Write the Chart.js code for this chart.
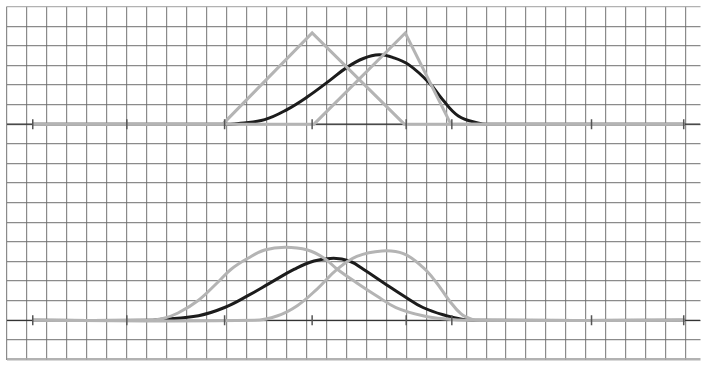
<!DOCTYPE html>
<html>
<head>
<meta charset="utf-8">
<script src="https://cdn.jsdelivr.net/npm/chart.js@4.4.1/dist/chart.umd.min.js"></script>
<style>
  body { margin: 0; background: #fff; }
  canvas { display: block; }
</style>
</head>
<body>
<canvas id="grafico" width="707" height="366"></canvas>
<script>
// x in units of the axis tick spacing (0 = centre tick), y = height of the triangles

// top panel: two triangles and the black result
const triAX = [-3, -0.96, 0, 0.99, 4];
const triAY = [0, 0, 1, 0, 0];
const triBX = [-3, 0.02, 1.0, 1.49, 4];
const triBY = [0, 0, 1, 0, 0];
const topCurveX = [-3, -0.88, -0.77, -0.51, -0.27, -0.05, 0.19, 0.37, 0.55, 0.72, 0.87, 1.04, 1.26, 1.40, 1.57, 1.79, 1.9, 4];
const topCurveY = [0, 0, 0.01, 0.05, 0.16, 0.30, 0.48, 0.62, 0.72, 0.76, 0.73, 0.65, 0.45, 0.27, 0.09, 0.01, 0, 0];

// bottom panel: two gray bells and the black one
const bellAX = [-3, -1.76, -1.60, -1.44, -1.22, -1.01, -0.87, -0.69, -0.51, -0.29, -0.05, 0.13, 0.27, 0.48, 0.69, 0.90, 1.19, 1.47, 1.65, 4];
const bellAY = [0, 0, 0.02, 0.08, 0.22, 0.42, 0.56, 0.68, 0.77, 0.80, 0.77, 0.68, 0.56, 0.41, 0.27, 0.14, 0.05, 0.01, 0, 0];
const bellBX = [-3, -0.62, -0.37, -0.16, 0.05, 0.27, 0.48, 0.75, 0.98, 1.19, 1.33, 1.47, 1.60, 1.72, 1.82, 4];
const bellBY = [0, 0, 0.05, 0.16, 0.34, 0.56, 0.70, 0.76, 0.73, 0.58, 0.42, 0.22, 0.07, 0.01, 0, 0];
const bottomCurveX = [-3, -1.76, -1.62, -1.22, -0.94, -0.69, -0.45, -0.19, 0.02, 0.23, 0.40, 0.55, 0.77, 0.98, 1.19, 1.44, 1.62, 1.76, 4];
const bottomCurveY = [0, 0, 0.01, 0.05, 0.14, 0.27, 0.41, 0.56, 0.65, 0.68, 0.65, 0.56, 0.41, 0.27, 0.14, 0.05, 0.01, 0, 0];

// tick marks on both axes, and the thin axis line
const tickX = [-3, -1.99, -0.94, 0, 1.01, 1.5, 3, 3.99];
const axisX = [-3.28, 4.17];

addEventListener("DOMContentLoaded", function(){
    generarGrafico();
});

function puntos(xs, ys) {
    let out = [];
    for (let i = 0; i < xs.length; i++) {
        out = [...out, {x: xs[i], y: ys[i]}];
    }
    return out;
}

function generarGrafico() {

    const gris = "#b4b4b4";
    const negro = "#1c1c1c";

    // graph paper: one square = 20px, tick unit = 94px, triangle height = 93px
    const PX_X = 94, PX_Y = 93, SQ = 20;
    const xMin = -308 / PX_X, xMax = 392 / PX_X;
    const topMax = 120 / PX_Y, topMin = -240 / PX_Y;
    const botMax = 320 / PX_Y, botMin = -40 / PX_Y;

    let gridX = [];
    for (let k = 0; k <= 34; k++) gridX.push(xMin + k * 20.15 / PX_X);
    let gridY = [];
    for (let k = 0; k <= 18; k++) gridY.push(topMax - k * SQ / PX_Y);

    const curva = (xs, ys, color, eje, ancho, tension) => ({
        type: "line",
        data: puntos(xs, ys),
        yAxisID: eje,
        borderColor: color,
        borderWidth: ancho,
        pointRadius: 0,
        fill: false,
        tension: tension
    });

    const marcas = eje => ({
        type: "scatter", data: puntos(tickX, tickX.map(() => 0)), yAxisID: eje,
        pointStyle: "line", rotation: 90, pointRadius: 5,
        borderColor: "#555", borderWidth: 1.5, showLine: false
    });

    const ejeY = axisX.map(() => 0);

    // Chart.js paints dataset 0 last, so the top layer goes first
    new Chart("grafico", {
      type: "line",
      data: {
        datasets: [
          marcas("yTop"),
          marcas("yBot"),
          curva(triAX, triAY, gris, "yTop", 3, 0),
          curva(triBX, triBY, gris, "yTop", 3, 0),
          curva(bellAX, bellAY, gris, "yBot", 3, 0.4),
          curva(bellBX, bellBY, gris, "yBot", 3, 0.4),
          curva(topCurveX, topCurveY, negro, "yTop", 3, 0.4),
          curva(bottomCurveX, bottomCurveY, negro, "yBot", 3, 0.4),
          curva(axisX, ejeY, "#333", "yTop", 1.2, 0),
          curva(axisX, ejeY, "#333", "yBot", 1.2, 0)
        ]
      },
      options: {
        responsive: false,
        animation: false,
        devicePixelRatio: 1,
        layout: { padding: { left: 7, top: 5, right: 0, bottom: 1 } },
        plugins: { legend: { display: false }, tooltip: { enabled: false } },
        datasets: { line: { borderJoinStyle: "miter" } },
        scales: {
          x: {
            type: "linear", min: xMin, max: xMax,
            ticks: { display: false },
            border: { display: false },
            grid: { color: "rgba(110,110,110,0.8)", lineWidth: 1.2, drawTicks: false },
            afterBuildTicks: s => { s.ticks = gridX.map(v => ({value: v})); },
            afterFit: s => { s.height = 0; }
          },
          yTop: {
            type: "linear", position: "left", min: topMin, max: topMax,
            ticks: { display: false },
            border: { display: false },
            grid: {
              drawTicks: false,
              color: c => (c.index === 18 || c.index === 0) ? "rgba(170,170,170,0.9)" : "rgba(110,110,110,0.8)",
              lineWidth: c => c.index === 18 ? 2.5 : 1.2
            },
            afterBuildTicks: s => { s.ticks = gridY.map(v => ({value: v})); },
            afterFit: s => { s.width = 0; }
          },
          yBot: {
            type: "linear", position: "left", min: botMin, max: botMax,
            display: false
          }
        }
      }
    });
}
</script>
</body>
</html>
